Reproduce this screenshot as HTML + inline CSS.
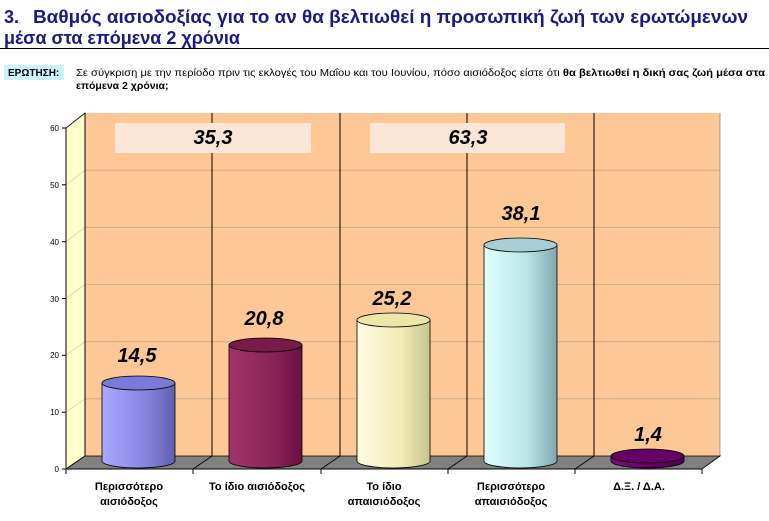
<!DOCTYPE html>
<html><head><meta charset="utf-8"><style>
body{margin:0;background:#fff;width:769px;height:516px;overflow:hidden;font-family:"Liberation Sans",sans-serif;}
</style></head><body>
<svg width="769" height="516" viewBox="0 0 769 516" xmlns="http://www.w3.org/2000/svg" font-family="Liberation Sans, sans-serif">
<defs>
<linearGradient id="g1" x1="0" x2="1"><stop offset="0" stop-color="#a8a8ff"/><stop offset="0.6" stop-color="#8585e0"/><stop offset="1" stop-color="#6060b0"/></linearGradient>
<linearGradient id="g2" x1="0" x2="1"><stop offset="0" stop-color="#a03468"/><stop offset="0.6" stop-color="#8a2458"/><stop offset="1" stop-color="#6a1040"/></linearGradient>
<linearGradient id="g3" x1="0" x2="1"><stop offset="0" stop-color="#fffce0"/><stop offset="0.6" stop-color="#f0ecb8"/><stop offset="1" stop-color="#c8c490"/></linearGradient>
<linearGradient id="g4" x1="0" x2="1"><stop offset="0" stop-color="#e0ffff"/><stop offset="0.6" stop-color="#b8e4e8"/><stop offset="1" stop-color="#80a8ac"/></linearGradient>
<linearGradient id="g5" x1="0" x2="1"><stop offset="0" stop-color="#7a0a7a"/><stop offset="1" stop-color="#500050"/></linearGradient>
</defs>
<text x="4" y="23" font-size="18" font-weight="bold" fill="#1a1a80">3.</text>
<text x="33" y="23" font-size="18" font-weight="bold" fill="#1a1a80" textLength="715" lengthAdjust="spacingAndGlyphs">Βαθμός αισιοδοξίας για το αν θα βελτιωθεί η προσωπική ζωή των ερωτώμενων</text>
<text x="4" y="44" font-size="18" font-weight="bold" fill="#1a1a80">μέσα στα επόμενα 2 χρόνια</text>
<line x1="0" y1="48.5" x2="769" y2="48.5" stroke="#000" stroke-width="1"/>
<rect x="4" y="65" width="60" height="15" fill="#ccf2ff"/>
<text x="8" y="76" font-size="10" font-weight="bold" fill="#000">ΕΡΩΤΗΣΗ:</text>
<text x="76" y="76" font-size="10.5" fill="#000" textLength="689" lengthAdjust="spacingAndGlyphs">Σε σύγκριση με την περίοδο πριν τις εκλογές του Μαΐου και του Ιουνίου, πόσο αισιόδοξος είστε ότι <tspan font-weight="bold">θα βελτιωθεί η δική σας ζωή μέσα στα</tspan></text>
<text x="76" y="89" font-size="10.5" font-weight="bold" fill="#000">επόμενα 2 χρόνια;</text>

<rect x="85" y="113" width="635" height="343" fill="#fdc896"/>
<polygon points="66,128 85,113 85,456 66,469" fill="#ffffcc" stroke="#000" stroke-width="0.8"/>
<g stroke="#c8a888" stroke-width="0.8">
<line x1="85" y1="170.2" x2="720" y2="170.2"/><line x1="85" y1="227.3" x2="720" y2="227.3"/><line x1="85" y1="284.5" x2="720" y2="284.5"/><line x1="85" y1="341.7" x2="720" y2="341.7"/><line x1="85" y1="398.8" x2="720" y2="398.8"/>
</g>
<g stroke="#d8d8b0" stroke-width="0.8">
<line x1="66" y1="184.8" x2="85" y2="170.2"/><line x1="66" y1="241.7" x2="85" y2="227.3"/><line x1="66" y1="298.5" x2="85" y2="284.5"/><line x1="66" y1="355.3" x2="85" y2="341.7"/><line x1="66" y1="412.2" x2="85" y2="398.8"/>
</g>
<g stroke="#000" stroke-width="1">
<line x1="85" y1="113" x2="85" y2="456"/><line x1="212" y1="113" x2="212" y2="456"/><line x1="340" y1="113" x2="340" y2="456"/><line x1="467" y1="113" x2="467" y2="456"/><line x1="594" y1="113" x2="594" y2="456"/>
</g>
<line x1="720" y1="113" x2="720" y2="456" stroke="#888" stroke-width="0.8"/>
<polygon points="66,469 702,469 720,456 85,456" fill="#808080" stroke="#000" stroke-width="0.8"/>
<g stroke="#000" stroke-width="0.8"><line x1="193" y1="469" x2="212" y2="456"/><line x1="321" y1="469" x2="340" y2="456"/><line x1="448" y1="469" x2="467" y2="456"/><line x1="575" y1="469" x2="594" y2="456"/></g>
<g stroke="#000" stroke-width="1">
<line x1="66" y1="128" x2="66" y2="469"/><line x1="66" y1="469" x2="702" y2="469"/>
<line x1="62" y1="128" x2="66" y2="128"/><line x1="62" y1="184.8" x2="66" y2="184.8"/><line x1="62" y1="241.7" x2="66" y2="241.7"/><line x1="62" y1="298.5" x2="66" y2="298.5"/><line x1="62" y1="355.3" x2="66" y2="355.3"/><line x1="62" y1="412.2" x2="66" y2="412.2"/><line x1="62" y1="469" x2="66" y2="469"/>
<line x1="66" y1="469" x2="66" y2="474"/><line x1="193" y1="469" x2="193" y2="474"/><line x1="321" y1="469" x2="321" y2="474"/><line x1="448" y1="469" x2="448" y2="474"/><line x1="575" y1="469" x2="575" y2="474"/><line x1="702" y1="469" x2="702" y2="474"/>
</g>
<g font-size="8" fill="#000" text-anchor="end">
<text x="59" y="131">60</text><text x="59" y="188">50</text><text x="59" y="245">40</text><text x="59" y="302">30</text><text x="59" y="358">20</text><text x="59" y="415">10</text><text x="59" y="472">0</text>
</g>
<rect x="115" y="123" width="196" height="30" fill="#fbe5d6"/>
<rect x="370" y="123" width="195" height="30" fill="#fbe5d6"/>
<g font-size="20" font-weight="bold" font-style="italic" fill="#000" text-anchor="middle">
<text x="213" y="144">35,3</text><text x="468" y="144">63,3</text>
</g>
<g stroke="#000" stroke-width="0.8">
<path d="M102,383 L102,461 A36.5,7 0 0 0 175,461 L175,383 Z" fill="url(#g1)"/><ellipse cx="138.5" cy="383" rx="36.5" ry="7" fill="#7a7ad8"/>
<path d="M229,345 L229,461 A36.5,7 0 0 0 302,461 L302,345 Z" fill="url(#g2)"/><ellipse cx="265.5" cy="345" rx="36.5" ry="7" fill="#7a1a48"/>
<path d="M357,320 L357,461 A36.5,7 0 0 0 430,461 L430,320 Z" fill="url(#g3)"/><ellipse cx="393.5" cy="320" rx="36.5" ry="7" fill="#ece6a8"/>
<path d="M484,245 L484,461 A36.5,7 0 0 0 557,461 L557,245 Z" fill="url(#g4)"/><ellipse cx="520.5" cy="245" rx="36.5" ry="7" fill="#a8d0d4"/>
<path d="M611,456 L611,461 A36.5,7 0 0 0 684,461 L684,456 Z" fill="url(#g5)"/><ellipse cx="647.5" cy="456" rx="36.5" ry="7" fill="#660066"/>
</g>
<g font-size="20" font-weight="bold" font-style="italic" fill="#000" text-anchor="middle">
<text x="137" y="362">14,5</text><text x="264" y="325">20,8</text><text x="392" y="305">25,2</text><text x="521" y="220">38,1</text><text x="648" y="441">1,4</text>
</g>
<g font-size="11" font-weight="bold" fill="#000" text-anchor="middle">
<text x="129" y="490">Περισσότερο</text><text x="129" y="505">αισιόδοξος</text>
<text x="257" y="490">Το ίδιο αισιόδοξος</text>
<text x="384" y="490">Το ίδιο</text><text x="384" y="505">απαισιόδοξος</text>
<text x="511" y="490">Περισσότερο</text><text x="511" y="505">απαισιόδοξος</text>
<text x="639" y="490">Δ.Ξ. / Δ.Α.</text>
</g>
</svg>
</body></html>
